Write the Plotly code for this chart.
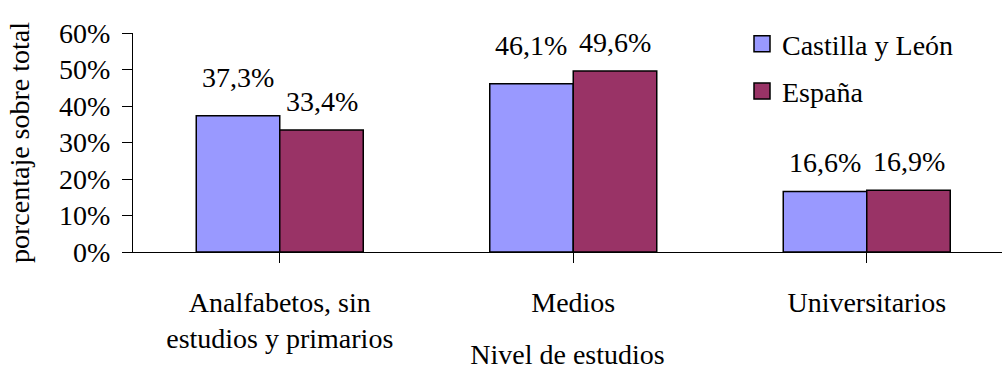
import plotly.graph_objects as go

categories = ["Analfabetos, sin<br>estudios y primarios", "Medios", "Universitarios"]
series_names = ["Castilla y León", "España"]
castilla = [0.373, 0.461, 0.166]
espana = [0.334, 0.496, 0.169]
y_ticks = [0, 0.1, 0.2, 0.3, 0.4, 0.5, 0.6]
colors = ["#9999FF", "#993366"]
# extra vertical lift (px) of individual data labels, as placed in the original
label_lift = {(0, 0): 10, (0, 1): 10}

FONT = "Liberation Serif"
FS = 28
W, H = 1002, 370
L, R, T, B = 133, 0, 33, 118
cat_px = 293.5
plot_w = W - L - R
bargap = 0.431

fig = go.Figure()
series_vals = [castilla, espana]
for i, (name, vals) in enumerate(zip(series_names, series_vals)):
    fig.add_trace(go.Bar(
        x=list(range(len(categories))), y=vals, name=name,
        marker=dict(color=colors[i], line=dict(color="black", width=1.5)),
        showlegend=False, hoverinfo="skip",
    ))
    fig.add_trace(go.Scatter(
        x=[None], y=[None], mode="markers", name=name,
        marker=dict(symbol="square", size=20, color=colors[i],
                    line=dict(color="black", width=1.5)),
        legendgroup=name, showlegend=True,
    ))

bar_w_px = cat_px * (1 - bargap) / 2
annotations = []
for i, vals in enumerate(series_vals):
    sign = -1 if i == 0 else 1
    for j, v in enumerate(vals):
        annotations.append(dict(
            x=j, y=v, xref="x", yref="y",
            text=f"{v*100:.1f}%".replace(".", ","),
            showarrow=False, xanchor="center", yanchor="bottom",
            xshift=sign * bar_w_px / 2,
            yshift=11 + label_lift.get((i, j), 0),
            font=dict(family=FONT, size=FS, color="black"),
        ))

fig.update_layout(
    width=W, height=H,
    margin=dict(l=L, r=R, t=T, b=B, pad=0, autoexpand=False),
    paper_bgcolor="white", plot_bgcolor="white",
    barmode="group", bargap=bargap, bargroupgap=0,
    font=dict(family=FONT, size=FS, color="black"),
    separators=",.",
    annotations=annotations,
    legend=dict(
        xref="container", yref="container",
        x=742 / W, y=1 - 19 / H, xanchor="left", yanchor="top",
        font=dict(family=FONT, size=FS, color="black"),
        bgcolor="rgba(0,0,0,0)", tracegroupgap=8,
    ),
    xaxis=dict(
        range=[-0.5, -0.5 + plot_w / cat_px],
        tickmode="array", tickvals=list(range(len(categories))), ticktext=categories,
        tickson="boundaries", ticks="outside", ticklen=10, tickcolor="black", tickwidth=1,
        ticklabelstandoff=15,
        showline=True, linecolor="black", linewidth=1,
        showgrid=False, zeroline=False,
        tickfont=dict(family=FONT, size=FS),
        title=dict(text="Nivel de estudios", font=dict(family=FONT, size=FS), standoff=0),
    ),
    yaxis=dict(
        range=[0, 0.6], tickvals=y_ticks, tickformat=".0%",
        ticks="outside", ticklen=10, tickcolor="black", tickwidth=1,
        ticklabelstandoff=6,
        showline=True, linecolor="black", linewidth=1,
        showgrid=False, zeroline=False,
        tickfont=dict(family=FONT, size=FS),
        title=dict(text="porcentaje sobre total", font=dict(family=FONT, size=FS), standoff=21),
    ),
)

fig.write_html("out.html", config={"displayModeBar": False},
               post_script="document.body.style.margin='0';")
